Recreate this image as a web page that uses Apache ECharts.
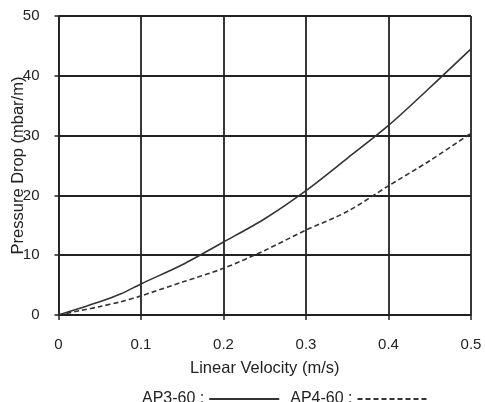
<!DOCTYPE html>
<html>
<head>
<meta charset="utf-8">
<script src="https://cdn.jsdelivr.net/npm/echarts@6/dist/echarts.min.js"></script>
<style>
html,body{margin:0;padding:0;background:#fff;}
#chart{width:485px;height:402px;}
</style>
</head>
<body>
<div id="chart"></div>
<script>
var velocity = [0, 0.025, 0.05, 0.075, 0.1, 0.15, 0.2, 0.25, 0.3, 0.35, 0.4, 0.45, 0.5];
var ap3 = [0, 1.1, 2.2, 3.5, 5.2, 8.4, 12.2, 16.1, 20.8, 26.2, 31.7, 38.0, 44.5];
var ap4 = [0, 0.7, 1.4, 2.2, 3.2, 5.5, 7.8, 10.8, 14.2, 17.3, 21.6, 25.8, 30.4];
var seriesNames = ['AP3-60', 'AP4-60'];
var xName = 'Linear Velocity (m/s)';
var yName = 'Pressure Drop (mbar/m)';

function pairs(xs, ys) { return xs.map(function (x, i) { return [x, ys[i]]; }); }

var font = 'Liberation Sans, Arial, sans-serif';
var chart = echarts.init(document.getElementById('chart'), null, {renderer: 'canvas'});
chart.setOption({
  animation: false,
  backgroundColor: '#fff',
  textStyle: {fontFamily: font},
  grid: {left: 58.5, right: 14, top: 16, bottom: 87, containLabel: false, outerBoundsMode: 'none'},
  xAxis: {
    type: 'value', min: 0, max: 0.5, interval: 0.1,
    name: xName, nameLocation: 'middle', nameGap: 45, nameMoveOverlap: false,
    nameTextStyle: {fontSize: 16.5, color: '#222', fontFamily: font},
    axisLine: {show: true, lineStyle: {color: '#222', width: 1.5}},
    axisTick: {show: true, inside: false, length: 5, lineStyle: {color: '#222', width: 1.5}},
    axisLabel: {fontSize: 15, color: '#222', margin: 22, fontFamily: font,
      formatter: function (v) { return v === 0 ? '0' : String(+v.toFixed(1)); }},
    splitLine: {show: true, lineStyle: {color: '#222', width: 1.8}}
  },
  yAxis: {
    type: 'value', min: 0, max: 50, interval: 10,
    name: yName, nameLocation: 'middle', nameGap: 32, nameRotate: 90, nameMoveOverlap: false,
    nameTextStyle: {fontSize: 16.5, color: '#222', fontFamily: font},
    axisLine: {show: true, lineStyle: {color: '#222', width: 1.5}},
    axisTick: {show: true, inside: false, length: 4, lineStyle: {color: '#222', width: 1.5}},
    axisLabel: {fontSize: 15, color: '#222', margin: 19, fontFamily: font},
    splitLine: {show: true, lineStyle: {color: '#222', width: 1.8}}
  },
  legend: {
    show: true, top: 386, left: 137, align: 'right',
    itemWidth: 70, itemHeight: 14, itemGap: 10,
    formatter: function (n) { return n + ' :'; },
    textStyle: {fontSize: 16, color: '#222', fontFamily: font},
    itemStyle: {opacity: 0},
    data: seriesNames
  },
  series: [
    {name: seriesNames[0], type: 'line', data: pairs(velocity, ap3), symbol: 'none', smooth: 0.3,
     lineStyle: {color: '#333', width: 1.6, type: 'solid'}, itemStyle: {color: '#333'}},
    {name: seriesNames[1], type: 'line', data: pairs(velocity, ap4), symbol: 'none', smooth: 0.3,
     lineStyle: {color: '#333', width: 1.6, type: [5, 3]}, itemStyle: {color: '#333'}}
  ]
});
</script>
</body>
</html>
